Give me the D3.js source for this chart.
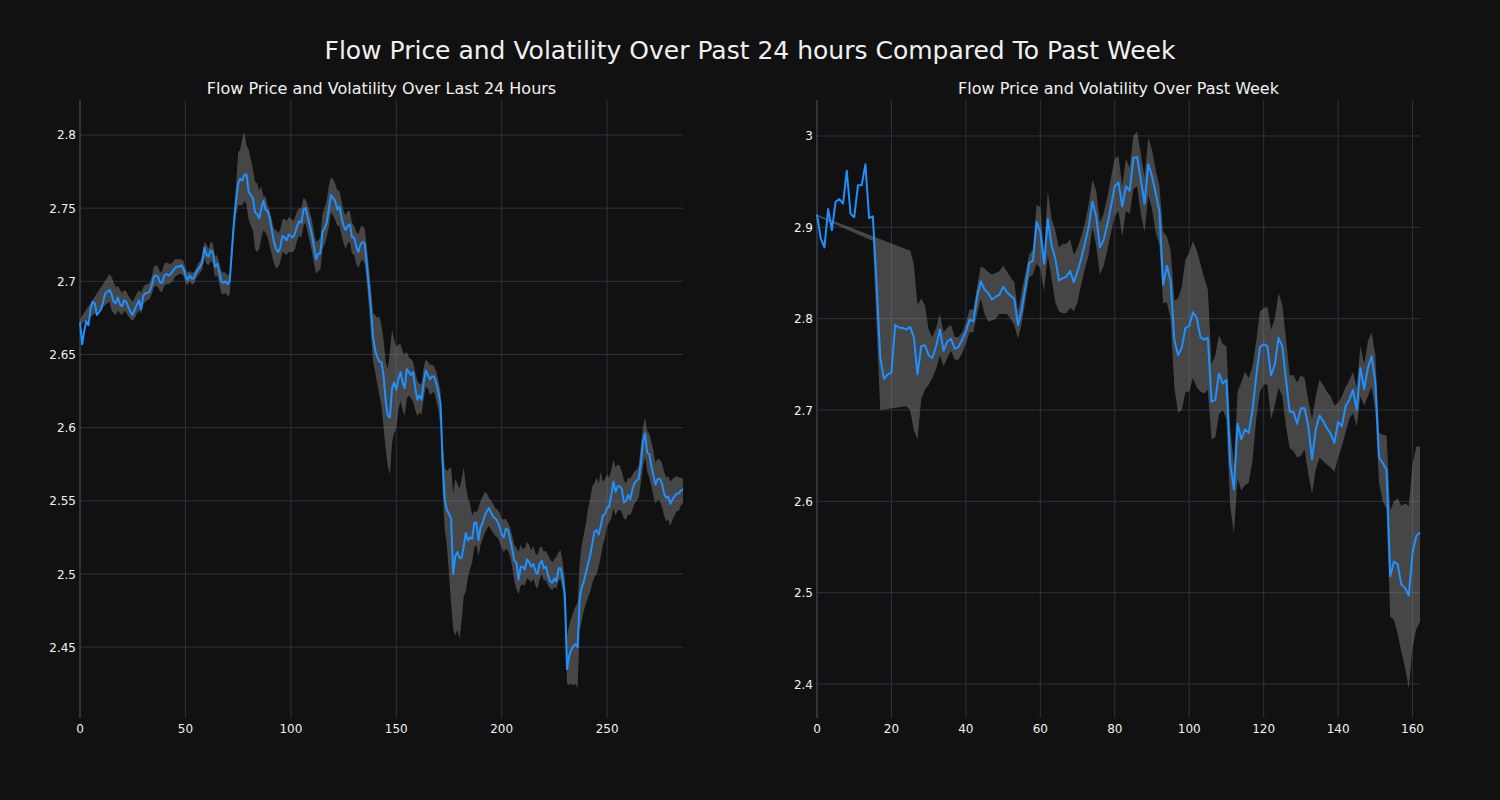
<!DOCTYPE html>
<html>
<head>
<meta charset="utf-8">
<script src="https://cdnjs.cloudflare.com/ajax/libs/d3/7.8.5/d3.min.js"></script>
<style>
  html, body { margin: 0; padding: 0; background: #111111; }
  svg { display: block; }
</style>
</head>
<body>
<svg id="chart" width="1500" height="800"></svg>
<script>
// ---------------- DATA ----------------
const suptitle = "Flow Price and Volatility Over Past 24 hours Compared To Past Week";
const dayTitle = "Flow Price and Volatility Over Last 24 Hours";
const weekTitle = "Flow Price and Volatility Over Past Week";

const dayXTicks = [0, 50, 100, 150, 200, 250];
const dayYTicks = [2.45, 2.5, 2.55, 2.6, 2.65, 2.7, 2.75, 2.8];
const dayYTickLabels = ["2.45", "2.5", "2.55", "2.6", "2.65", "2.7", "2.75", "2.8"];
const weekXTicks = [0, 20, 40, 60, 80, 100, 120, 140, 160];
const weekYTicks = [2.4, 2.5, 2.6, 2.7, 2.8, 2.9, 3.0];
const weekYTickLabels = ["2.4", "2.5", "2.6", "2.7", "2.8", "2.9", "3"];

// last 24 hours: price
const dayPrice = [
2.672,2.657,2.666,2.673,2.670,2.681,2.686,2.685,2.677,2.679,
2.681,2.686,2.692,2.693,2.694,2.691,2.686,2.685,2.689,2.684,
2.683,2.687,2.686,2.682,2.679,2.677,2.681,2.684,2.687,2.681,
2.690,2.692,2.692,2.693,2.697,2.703,2.704,2.703,2.699,2.699,
2.704,2.705,2.704,2.705,2.707,2.709,2.710,2.710,2.711,2.709,
2.704,2.701,2.704,2.702,2.702,2.706,2.708,2.710,2.713,2.723,
2.718,2.717,2.721,2.720,2.710,2.712,2.707,2.700,2.699,2.700,
2.698,2.700,2.720,2.740,2.755,2.767,2.770,2.769,2.773,2.773,
2.761,2.759,2.757,2.747,2.746,2.743,2.750,2.755,2.749,2.748,
2.743,2.735,2.727,2.722,2.720,2.723,2.731,2.730,2.728,2.732,
2.731,2.730,2.733,2.738,2.741,2.740,2.749,2.750,2.744,2.738,
2.732,2.723,2.715,2.719,2.719,2.734,2.736,2.740,2.749,2.759,
2.757,2.755,2.749,2.751,2.744,2.738,2.735,2.738,2.739,2.730,
2.730,2.724,2.720,2.725,2.727,2.726,2.712,2.697,2.681,2.662,
2.653,2.648,2.645,2.645,2.635,2.618,2.608,2.607,2.627,2.631,
2.626,2.633,2.638,2.631,2.627,2.640,2.638,2.636,2.638,2.627,
2.619,2.622,2.619,2.631,2.639,2.636,2.633,2.635,2.635,2.630,
2.624,2.616,2.576,2.551,2.544,2.541,2.538,2.500,2.512,2.515,
2.511,2.511,2.519,2.528,2.523,2.525,2.524,2.535,2.535,2.523,
2.532,2.535,2.540,2.543,2.545,2.542,2.539,2.538,2.536,2.532,
2.527,2.525,2.531,2.530,2.524,2.517,2.509,2.508,2.496,2.505,
2.505,2.503,2.510,2.508,2.505,2.507,2.502,2.500,2.507,2.509,
2.504,2.505,2.499,2.495,2.494,2.497,2.495,2.504,2.504,2.496,
2.485,2.435,2.444,2.448,2.451,2.452,2.450,2.483,2.491,2.495,
2.501,2.507,2.513,2.521,2.529,2.530,2.527,2.533,2.540,2.541,
2.545,2.546,2.554,2.563,2.556,2.560,2.560,2.558,2.549,2.550,
2.554,2.551,2.558,2.562,2.564,2.565,2.576,2.590,2.596,2.583,
2.582,2.574,2.567,2.561,2.565,2.565,2.562,2.555,2.552,2.553,
2.548,2.551,2.553,2.555,2.555,2.557,2.558];

// last 24 hours: volatility band upper edge (null = not drawn as a vertex)
const dayBandHigh = [
2.674,null,null,null,null,null,null,null,null,null,
null,null,null,null,2.705,2.703,2.699,2.696,2.697,2.694,
2.692,2.694,2.693,2.690,2.688,2.686,2.689,2.692,2.694,2.692,
2.696,2.698,2.698,2.699,2.703,2.710,2.711,2.710,2.706,2.707,
2.712,2.713,2.712,2.712,2.713,2.715,2.715,2.715,2.715,2.714,
2.709,2.706,2.707,2.706,2.706,2.709,2.712,2.714,2.718,2.727,
2.725,2.722,2.727,2.726,2.717,2.718,2.713,2.707,2.706,2.706,
2.704,2.705,2.728,2.748,2.765,2.788,2.790,2.798,2.802,2.793,
2.790,2.783,2.777,2.768,2.767,2.762,2.765,2.758,2.758,2.752,
2.748,2.742,2.736,2.735,2.733,2.735,2.742,2.743,2.741,2.744,
2.743,2.741,2.744,2.748,2.750,2.750,2.757,2.756,2.752,2.747,
2.742,2.733,2.727,2.728,2.730,2.746,2.750,2.755,2.765,2.771,
2.770,2.767,2.762,2.762,2.755,2.748,2.745,2.748,2.748,2.740,
2.738,2.734,2.732,2.737,2.738,2.736,2.724,2.710,2.695,2.678,
2.677,2.675,2.676,2.670,2.660,2.645,2.640,2.652,2.667,2.660,
2.655,2.657,2.657,2.652,2.650,2.652,2.648,2.647,2.645,2.638,
2.632,2.630,2.630,2.641,2.647,2.645,2.643,2.643,2.642,2.638,
2.632,2.625,2.590,2.573,2.570,2.572,2.573,2.555,2.565,2.562,
2.558,2.565,2.573,2.560,2.552,2.548,2.540,2.543,2.542,2.545,
2.550,2.553,2.556,2.555,2.552,2.550,2.548,2.545,2.544,2.542,
2.538,2.537,2.538,2.535,2.532,2.526,2.520,2.518,2.515,2.520,
2.517,2.518,2.522,2.520,2.516,2.519,2.514,2.513,2.518,2.519,
2.515,2.516,2.513,2.510,2.508,2.510,2.512,2.515,2.516,2.508,
2.496,2.458,2.465,2.470,2.474,2.478,2.480,2.508,2.520,2.527,
2.535,2.545,2.552,2.560,2.562,2.566,2.562,2.570,2.563,2.565,
2.568,2.566,2.571,2.578,2.573,2.575,2.574,2.570,2.564,2.562,
2.566,2.565,2.568,2.570,2.571,2.574,2.588,2.600,2.607,2.598,
2.596,2.590,2.584,2.576,2.579,2.578,2.576,2.570,2.566,2.567,
2.563,2.565,2.566,2.567,2.566,2.566,2.565];

// last 24 hours: volatility band lower edge
const dayBandLow = [
2.670,null,null,null,null,null,null,null,null,null,
null,null,null,null,2.686,2.680,2.678,2.677,2.680,2.678,
2.677,2.680,2.678,2.676,2.674,2.673,2.675,2.678,2.680,2.678,
2.684,2.686,2.687,2.688,2.691,2.696,2.697,2.696,2.693,2.693,
2.697,2.698,2.698,2.699,2.700,2.703,2.704,2.705,2.705,2.704,
2.699,2.697,2.700,2.698,2.698,2.702,2.704,2.706,2.708,2.716,
2.712,2.711,2.714,2.712,2.703,2.704,2.699,2.692,2.691,2.692,
2.690,2.691,2.712,2.733,2.745,2.752,2.752,2.752,2.755,2.752,
2.742,2.738,2.735,2.722,2.720,2.722,2.730,2.735,2.733,2.730,
2.724,2.718,2.712,2.709,2.710,2.713,2.720,2.719,2.718,2.720,
2.720,2.720,2.722,2.728,2.731,2.730,2.738,2.740,2.733,2.727,
2.720,2.712,2.705,2.707,2.708,2.722,2.725,2.730,2.737,2.747,
2.745,2.742,2.738,2.738,2.732,2.726,2.722,2.726,2.727,2.719,
2.718,2.712,2.709,2.713,2.715,2.712,2.700,2.683,2.664,2.645,
2.638,2.630,2.622,2.615,2.600,2.585,2.574,2.568,2.590,2.596,
2.600,2.612,2.618,2.612,2.608,2.620,2.622,2.620,2.618,2.612,
2.608,2.610,2.609,2.620,2.628,2.627,2.622,2.624,2.624,2.618,
2.612,2.600,2.556,2.530,2.520,2.500,2.480,2.462,2.458,2.462,
2.456,2.468,2.485,2.488,2.498,2.503,2.508,2.518,2.520,2.512,
2.520,2.524,2.528,2.531,2.533,2.530,2.528,2.526,2.525,2.522,
2.518,2.515,2.517,2.516,2.512,2.505,2.495,2.490,2.486,2.492,
2.493,2.492,2.497,2.496,2.494,2.497,2.492,2.490,2.496,2.500,
2.495,2.496,2.492,2.490,2.489,2.491,2.490,2.496,2.496,2.489,
2.470,2.425,2.424,2.425,2.424,2.425,2.422,2.462,2.468,2.475,
2.480,2.484,2.488,2.494,2.498,2.500,2.505,2.512,2.520,2.525,
2.533,2.535,2.538,2.545,2.540,2.543,2.544,2.542,2.538,2.537,
2.541,2.540,2.544,2.548,2.550,2.552,2.562,2.573,2.580,2.570,
2.566,2.560,2.553,2.548,2.551,2.550,2.546,2.540,2.536,2.537,
2.533,2.537,2.540,2.543,2.543,2.547,2.548];

// past week: price
const weekPrice = [
2.914,2.888,2.878,2.920,2.897,2.928,2.931,2.926,2.962,2.915,
2.911,2.946,2.946,2.969,2.910,2.912,2.839,2.757,2.734,2.739,
2.741,2.793,2.790,2.790,2.788,2.791,2.780,2.739,2.770,2.771,
2.760,2.757,2.770,2.788,2.765,2.775,2.778,2.767,2.769,2.777,
2.786,2.799,2.797,2.824,2.841,2.832,2.828,2.821,2.824,2.826,
2.835,2.829,2.825,2.822,2.793,2.810,2.835,2.861,2.863,2.906,
2.895,2.860,2.909,2.881,2.866,2.842,2.844,2.846,2.852,2.840,
2.852,2.866,2.883,2.901,2.928,2.912,2.878,2.886,2.903,2.923,
2.945,2.949,2.923,2.945,2.940,2.976,2.977,2.952,2.926,2.969,
2.956,2.937,2.917,2.837,2.858,2.841,2.777,2.760,2.768,2.790,
2.792,2.807,2.801,2.780,2.777,2.779,2.709,2.711,2.740,2.729,
2.733,2.642,2.613,2.685,2.668,2.679,2.675,2.700,2.737,2.769,
2.772,2.770,2.738,2.750,2.779,2.770,2.733,2.698,2.698,2.685,
2.702,2.702,2.682,2.646,2.679,2.694,2.688,2.680,2.674,2.664,
2.687,2.682,2.704,2.711,2.722,2.700,2.746,2.723,2.746,2.759,
2.730,2.648,2.642,2.635,2.518,2.534,2.531,2.509,2.505,2.497,
2.544,2.562,2.566];

// past week: volatility band upper edge
const weekBandHigh = [
2.914,null,null,null,null,null,null,null,null,null,
null,null,null,null,null,null,null,null,null,null,
null,null,null,null,2.876,2.875,2.860,2.815,2.822,2.815,
2.788,2.780,2.790,2.805,2.785,2.790,2.793,2.780,2.780,2.785,
2.795,2.810,2.810,2.835,2.857,2.855,2.851,2.848,2.850,2.852,
2.858,2.852,2.845,2.840,2.808,2.830,2.850,2.870,2.876,2.925,
2.922,2.870,2.940,2.910,2.897,2.878,2.882,2.882,2.887,2.870,
2.878,2.890,2.905,2.925,2.952,2.940,2.905,2.915,2.933,2.955,
2.975,2.978,2.945,2.975,2.965,3.000,3.005,2.980,2.955,2.998,
2.985,2.963,2.945,2.895,2.890,2.875,2.820,2.822,2.835,2.865,
2.872,2.885,2.875,2.860,2.845,2.832,2.750,2.760,2.782,2.772,
2.770,2.680,2.640,2.720,2.730,2.742,2.735,2.748,2.775,2.808,
2.811,2.813,2.788,2.800,2.828,2.815,2.778,2.738,2.738,2.730,
2.738,2.735,2.710,2.690,2.715,2.733,2.727,2.720,2.715,2.705,
2.708,2.715,2.725,2.732,2.742,2.725,2.770,2.750,2.775,2.785,
2.760,2.675,2.673,2.672,2.590,2.600,2.603,2.595,2.598,2.595,
2.640,2.660,2.660];

// past week: volatility band lower edge
const weekBandLow = [
2.912,null,null,null,null,null,null,null,null,null,
null,null,null,null,null,2.885,null,2.700,null,null,
null,null,null,null,2.704,2.700,2.678,2.668,2.712,2.722,
2.728,2.735,2.745,2.760,2.748,2.757,2.765,2.755,2.755,2.762,
2.773,2.785,2.785,2.805,2.822,2.805,2.797,2.798,2.800,2.805,
2.805,2.805,2.800,2.793,2.778,2.795,2.820,2.845,2.848,2.860,
2.855,2.830,2.870,2.845,2.818,2.808,2.806,2.806,2.812,2.808,
2.818,2.838,2.855,2.870,2.900,2.880,2.848,2.858,2.875,2.895,
2.912,2.918,2.890,2.918,2.915,2.942,2.945,2.915,2.895,2.935,
2.920,2.895,2.880,2.817,2.818,2.800,2.725,2.697,2.700,2.720,
2.720,2.735,2.725,2.720,2.718,2.722,2.668,2.670,2.695,2.700,
2.690,2.595,2.565,2.625,2.612,2.618,2.620,2.645,2.690,2.720,
2.728,2.728,2.690,2.705,2.725,2.715,2.682,2.658,2.655,2.648,
2.650,2.657,2.630,2.608,2.635,2.648,2.644,2.640,2.637,2.632,
2.648,2.660,2.675,2.690,2.697,2.682,2.715,2.705,2.715,2.725,
2.700,2.620,2.600,2.592,2.474,2.470,2.455,2.435,2.418,2.395,
2.440,2.460,2.468];

// ---------------- DRAWING ----------------
const svg = d3.select("#chart");
const FONT = "'DejaVu Sans', Verdana, sans-serif";
const BG = "#111111";
const GRID = "#2a3340";
const SPINE = "#36414f";
const TEXT = "#f0f0f0";
const LINE = "#1e90ff";

svg.append("rect").attr("width", 1500).attr("height", 800).attr("fill", BG);

svg.append("text")
  .attr("x", 750).attr("y", 59)
  .attr("text-anchor", "middle")
  .attr("font-family", FONT).attr("font-size", 25)
  .attr("fill", TEXT)
  .text(suptitle);

function panel(opts) {
  const { left, right, top, bottom, xDomain, yDomain, price, hi, lo,
          xTicks, yTicks, yLabels, title } = opts;
  const x = d3.scaleLinear().domain(xDomain).range([left, right]);
  const y = d3.scaleLinear().domain(yDomain).range([bottom, top]);
  const g = svg.append("g");

  // grid
  g.selectAll(".gy").data(yTicks).enter().append("line")
    .attr("x1", left).attr("x2", right)
    .attr("y1", d => y(d)).attr("y2", d => y(d))
    .attr("stroke", GRID).attr("stroke-width", 1);
  g.selectAll(".gx").data(xTicks).enter().append("line")
    .attr("x1", d => x(d)).attr("x2", d => x(d))
    .attr("y1", top).attr("y2", bottom)
    .attr("stroke", GRID).attr("stroke-width", 1);

  // left spine
  g.append("line").attr("x1", left).attr("x2", left)
    .attr("y1", top).attr("y2", bottom)
    .attr("stroke", SPINE).attr("stroke-width", 1.2);

  // band polygon from defined vertices
  const upper = hi.map((v, i) => [i, v]).filter(d => d[1] !== null);
  const lower = lo.map((v, i) => [i, v]).filter(d => d[1] !== null).reverse();
  const poly = upper.concat(lower);
  const bandLine = d3.line().x(d => x(d[0])).y(d => y(d[1]));
  g.append("path")
    .attr("d", bandLine(poly) + "Z")
    .attr("fill", "#8a8a8a").attr("fill-opacity", 0.44)
    .attr("stroke", "none");

  // price line
  const pLine = d3.line().x((d, i) => x(i)).y(d => y(d));
  g.append("path")
    .attr("d", pLine(price))
    .attr("fill", "none").attr("stroke", LINE)
    .attr("stroke-width", 2).attr("stroke-linejoin", "round");

  // axes labels
  g.selectAll(".yl").data(yTicks).enter().append("text")
    .attr("x", left - 4).attr("y", d => y(d) + 4.5)
    .attr("text-anchor", "end")
    .attr("font-family", FONT).attr("font-size", 12)
    .attr("fill", TEXT)
    .text((d, i) => yLabels[i]);
  g.selectAll(".xl").data(xTicks).enter().append("text")
    .attr("x", d => x(d)).attr("y", bottom + 15)
    .attr("text-anchor", "middle")
    .attr("font-family", FONT).attr("font-size", 12)
    .attr("fill", TEXT)
    .text(d => d3.format("d")(d));

  g.append("text")
    .attr("x", (left + right) / 2).attr("y", top - 6)
    .attr("text-anchor", "middle")
    .attr("font-family", FONT).attr("font-size", 16)
    .attr("fill", TEXT)
    .text(title);
}

panel({
  left: 80, right: 683, top: 100, bottom: 718,
  xDomain: [0, dayPrice.length - 1], yDomain: [2.4016, 2.8239],
  price: dayPrice, hi: dayBandHigh, lo: dayBandLow,
  xTicks: dayXTicks, yTicks: dayYTicks, yLabels: dayYTickLabels,
  title: dayTitle
});

panel({
  left: 817, right: 1420, top: 100, bottom: 718,
  xDomain: [0, weekPrice.length - 1], yDomain: [2.3628, 3.0394],
  price: weekPrice, hi: weekBandHigh, lo: weekBandLow,
  xTicks: weekXTicks, yTicks: weekYTicks, yLabels: weekYTickLabels,
  title: weekTitle
});
</script>
</body>
</html>
